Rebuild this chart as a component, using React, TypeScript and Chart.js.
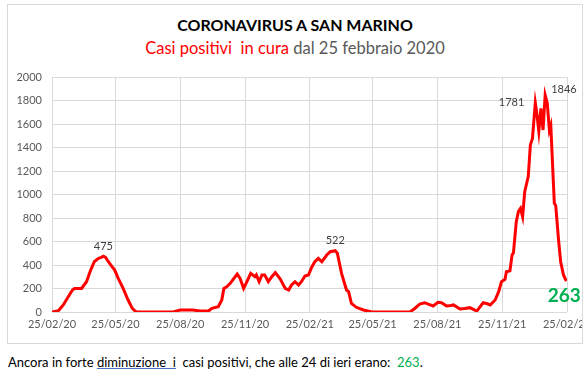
import React, { useEffect, useRef } from "react";
import { Chart, registerables } from "chart.js";

Chart.register(...registerables);

// Days elapsed since 25/02/2020
const days: number[] = [
  0, 9, 16, 22, 29, 32, 42, 49, 54, 60, 66, 70, 73, 76, 80, 86, 89, 94, 101, 108, 114, 118, 120,
  172, 182, 200, 210, 222, 227, 236, 241, 244, 248, 253, 260, 263, 267, 272, 276, 282, 288, 290,
  294, 298, 302, 307, 312, 317, 324, 331, 336, 340, 345, 350, 354, 359, 364, 369, 373, 378, 383,
  390, 395, 402, 405, 411, 418, 421, 425, 432, 442, 454, 508, 515, 522, 529, 535, 541, 548, 553,
  560, 566, 570, 579, 586, 593, 603, 612, 618, 622, 629, 634, 638, 643, 645, 650, 653, 655, 659,
  662, 665, 668, 671, 676, 679, 682, 686, 688, 691, 694, 697, 700, 703, 706, 708, 713, 715, 719,
  722, 726, 730,
];
// Active positive cases
const values: number[] = [
  0, 10, 60, 120, 187, 200, 200, 258, 343, 428, 457, 465, 475, 465, 428, 380, 357, 286, 201, 102, 31, 8, 0,
  0, 17, 17, 8, 8, 31, 45, 102, 201, 215, 244, 300, 323, 286, 201, 250, 329, 300, 315,
  258, 315, 315, 258, 300, 335, 280, 201, 187, 230, 258, 230, 258, 306, 315, 386, 428, 457, 428,
  485, 513, 522, 500, 329, 187, 173, 74, 40, 17, 0, 0, 30, 68, 79, 65, 51, 82, 79,
  51, 55, 60, 25, 30, 37, 8, 79, 70, 60, 102, 173, 258, 278, 343, 351, 485, 505, 769,
  854, 882, 811, 1024, 1152, 1421, 1478, 1781, 1700, 1537, 1733, 1549, 1846, 1776, 1549, 1588, 925, 906, 613,
  428, 315, 263,
];

const tickDays: number[] = [0, 90, 182, 274, 366, 455, 547, 639, 731];
const tickLabels: string[] = [
  "25/02/20", "25/05/20", "25/08/20", "25/11/20", "25/02/21",
  "25/05/21", "25/08/21", "25/11/21", "25/02/22",
];
const labelDays: number[] = [73, 402, 686, 700, 730];

const FONT = "Lato, 'Liberation Sans', sans-serif";

const pointLabels = {
  id: "pointLabels",
  afterDatasetsDraw(chart: any) {
    const ctx = chart.ctx;
    const xs = chart.scales.x;
    const ys = chart.scales.y;
    ctx.save();
    labelDays.forEach((d, i) => {
      const idx = days.indexOf(d);
      const v = values[idx];
      const px = xs.getPixelForValue(d);
      const py = ys.getPixelForValue(v);
      const text = String(v);
      if (i === labelDays.length - 1) {
        ctx.font = `bold 19px ${FONT}`;
        ctx.fillStyle = "#00b050";
        ctx.textAlign = "center";
        ctx.textBaseline = "middle";
        ctx.fillText(text, px - 2, py + 15);
      } else {
        ctx.font = `11px ${FONT}`;
        ctx.fillStyle = "#404040";
        ctx.textBaseline = "middle";
        if (i === 2) {
          ctx.textAlign = "right";
          ctx.fillText(text, px - 11, py);
        } else if (i === 3) {
          ctx.textAlign = "left";
          ctx.fillText(text, px + 6, py - 6);
        } else {
          ctx.textAlign = "center";
          ctx.fillText(text, px, py - 10);
        }
      }
    });
    ctx.restore();
  },
};

export default function App() {
  const ref = useRef<HTMLCanvasElement>(null);
  useEffect(() => {
    if (!ref.current) return;
    const chart = new Chart(ref.current, {
      type: "line",
      data: {
        datasets: [
          {
            data: days.map((d, i) => ({ x: d, y: values[i] })),
            borderColor: "#ff0000",
            borderWidth: 3,
            pointRadius: 0,
            tension: 0,
            fill: false,
          },
        ],
      },
      options: {
        animation: false,
        responsive: false,
        layout: { padding: { top: 72, left: 0, right: 15, bottom: 0 } },
        plugins: { legend: { display: false }, tooltip: { enabled: false }, title: { display: false } },
        scales: {
          x: {
            type: "linear",
            min: 0,
            max: 731,
            afterBuildTicks: (scale: any) => {
              scale.ticks = tickDays.map((v) => ({ value: v }));
            },
            afterFit: (scale: any) => {
              scale.paddingLeft = 0;
              scale.paddingRight = 0;
              scale.height = 31;
            },
            grid: { color: "#d9d9d9", drawTicks: false },
            border: { display: false },
            ticks: {
              autoSkip: false,
              maxRotation: 0,
              padding: 6,
              color: "#595959",
              font: { family: FONT, size: 11 },
              callback: (v: any) => {
                const i = tickDays.indexOf(Number(v));
                return i >= 0 ? tickLabels[i] : "";
              },
            },
          },
          y: {
            min: 0,
            max: 2000,
            afterFit: (scale: any) => {
              scale.width = 44;
            },
            grid: { color: "#d9d9d9", drawTicks: false },
            border: { display: false },
            ticks: {
              stepSize: 200,
              padding: 10,
              color: "#595959",
              font: { family: FONT, size: 11 },
              callback: (v: any) => String(v),
            },
          },
        },
      },
      plugins: [pointLabels],
    });
    return () => chart.destroy();
  }, []);

  return (
    <div>
      <div
        style={{
          position: "absolute",
          left: 7,
          top: 4,
          width: 574,
          height: 338,
          border: "1px solid #d9d9d9",
          background: "#fff",
        }}
      >
        <div
          style={{
            position: "absolute",
            left: 0,
            top: 10,
            width: "100%",
            textAlign: "center",
            fontFamily: FONT,
            fontWeight: "bold",
            fontSize: 16,
            color: "#000",
            lineHeight: "20px",
          }}
        >
          CORONAVIRUS A SAN MARINO
        </div>
        <div
          style={{
            position: "absolute",
            left: 0,
            top: 33,
            width: "100%",
            textAlign: "center",
            fontFamily: FONT,
            fontSize: 16.5,
            color: "#595959",
            lineHeight: "20px",
          }}
        >
          <span style={{ color: "#ff0000" }}>Casi positivi&nbsp; in cura</span> dal 25 febbraio 2020
        </div>
        <canvas ref={ref} width={574} height={338} style={{ position: "absolute", left: 0, top: 0 }} />
      </div>
      <div
        style={{
          position: "absolute",
          left: 8,
          top: 354,
          fontFamily: FONT,
          fontSize: 13,
          color: "#000",
          lineHeight: "16px",
          whiteSpace: "pre",
        }}
      >
        {"Ancora in forte "}
        <span style={{ textDecoration: "underline", textDecorationColor: "#4472c4" }}>{"diminuzione  i"}</span>
        {"  casi positivi, che alle 24 di ieri erano:  "}
        <span style={{ color: "#00b050" }}>263</span>.
      </div>
    </div>
  );
}
